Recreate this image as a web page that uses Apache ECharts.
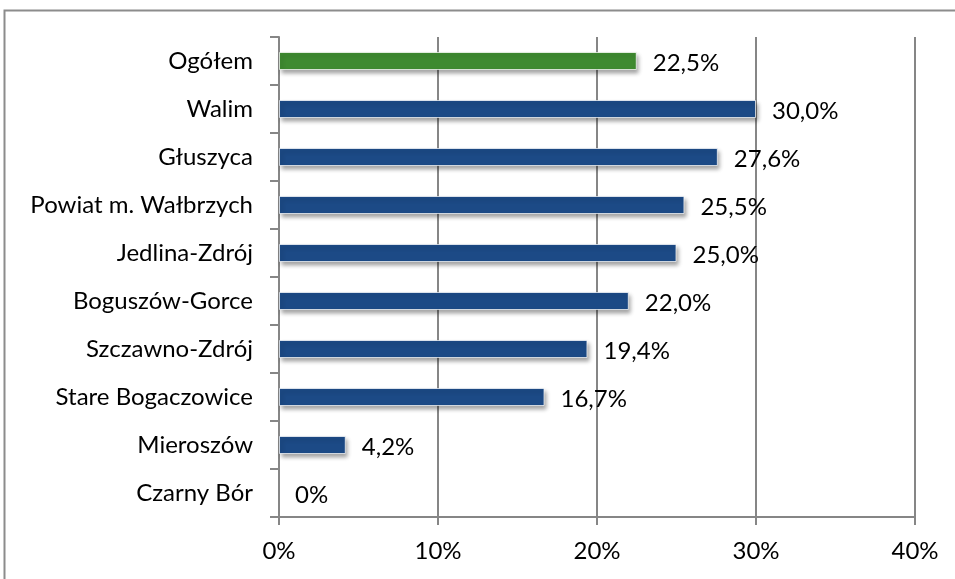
<!DOCTYPE html>
<html>
<head>
<meta charset="utf-8">
<script src="https://cdn.jsdelivr.net/npm/echarts@6/dist/echarts.min.js"></script>
<style>
  html, body { margin: 0; padding: 0; background: #fff; }
  #chart { width: 955px; height: 579px; }
</style>
</head>
<body>
<div id="chart"></div>
<script>
const categories = ['Ogółem', 'Walim', 'Głuszyca', 'Powiat m. Wałbrzych', 'Jedlina-Zdrój',
  'Boguszów-Gorce', 'Szczawno-Zdrój', 'Stare Bogaczowice', 'Mieroszów', 'Czarny Bór']
const values = [22.5, 30.0, 27.6, 25.5, 25.0, 22.0, 19.4, 16.7, 4.2, 0]
const xTicks = [0, 10, 20, 30, 40]

const chart = echarts.init(document.getElementById('chart'))

const fmt = (v) => v === 0 ? '0%' : v.toFixed(1).replace('.', ',') + '%'

const option = {
  backgroundColor: '#fff',
  animation: false,
  graphic: [
    {
      type: 'rect',
      shape: { x: 4.5, y: 10.5, width: 1200, height: 1200 },
      style: { fill: 'none', stroke: '#8c8c8c', lineWidth: 2 }
    }
  ],
  grid: {
    left: 279,
    right: 40,
    top: 37,
    bottom: 62
  },
  xAxis: {
    type: 'value',
    min: xTicks[0],
    max: xTicks[xTicks.length - 1],
    interval: 10,
    axisLine: { show: true, lineStyle: { color: '#868686', width: 2 } },
    axisTick: { show: true, length: 8, lineStyle: { color: '#868686', width: 2 } },
    splitLine: { show: true, lineStyle: { color: '#868686', width: 2 } },
    axisLabel: {
      formatter: '{value}%',
      color: '#000',
      fontFamily: 'Lato',
      fontSize: 24,
      margin: 22
    }
  },
  yAxis: {
    type: 'category',
    data: categories,
    inverse: true,
    axisLine: { show: true, lineStyle: { color: '#868686', width: 2 } },
    axisTick: { show: true, length: 9, lineStyle: { color: '#868686', width: 2 } },
    axisLabel: {
      color: '#000',
      fontFamily: 'Lato',
      fontSize: 24,
      margin: 26,
      padding: [0, 0, 4, 0]
    }
  },
  series: [
    {
      type: 'bar',
      barWidth: 18,
      data: values.map((v, i) => ({
        value: v,
        itemStyle: v === 0
          ? { color: 'transparent', borderWidth: 0, shadowBlur: 0, shadowOffsetX: 0, shadowOffsetY: 0, shadowColor: 'transparent' }
          : { color: i === 0 ? '#3e8a30' : '#1c4a86' }
      })),
      itemStyle: {
        borderColor: 'rgba(255,255,255,0.7)',
        borderWidth: 1,
        shadowColor: 'rgba(0,0,0,0.35)',
        shadowBlur: 4,
        shadowOffsetX: 2,
        shadowOffsetY: 3
      },
      label: {
        show: true,
        position: 'right',
        distance: 16,
        offset: [0, 2],
        color: '#000',
        fontFamily: 'Lato',
        fontSize: 24,
        formatter: (p) => fmt(p.value)
      }
    }
  ]
}

chart.setOption(option)
</script>
</body>
</html>
